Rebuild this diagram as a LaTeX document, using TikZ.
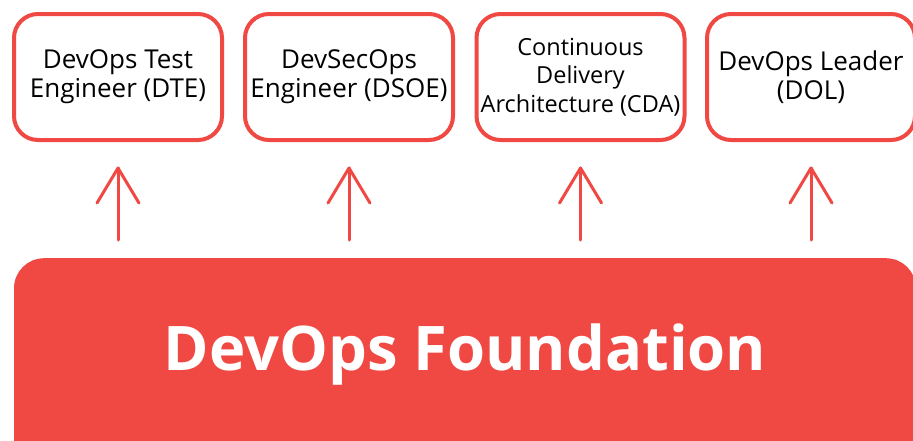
\documentclass[tikz,border=0pt]{standalone}
\usepackage{fontspec}
\setmainfont{Open Sans}
\definecolor{redA}{RGB}{240,72,66}
\begin{document}
\begin{tikzpicture}[x=1pt,y=-1pt,
  role/.style={draw=redA, line width=4pt, rounded corners=24pt, minimum width=208pt, minimum height=126pt, align=center, font=\fontsize{26}{29}\selectfont, inner sep=0pt, text=black},
  upline/.style={draw=redA, line width=3pt, line cap=round, line join=round}]
\useasboundingbox (0,0) rectangle (913,440);
\clip (0,0) rectangle (913,440);
\node[role] (b1) at (118,77) {DevOps Test\\Engineer (DTE)};
\node[role] (b2) at (349,77) {DevSecOps\\Engineer (DSOE)};
\node[role, font=\fontsize{23.5}{28.5}\selectfont] (b3) at (580.5,77) {Continuous\\Delivery\\Architecture (CDA)};
\node[role] (b4) at (811,77) {DevOps Leader\\(DOL)};
\node[fill=redA, rounded corners=30pt, minimum width=902pt, minimum height=230pt, inner sep=0pt, anchor=north] (found) at (465,258) {};
\node[anchor=base, text=white, font=\fontsize{61.5}{70}\selectfont\bfseries] (ftext) at (465,370) {DevOps Foundation};
\foreach \b in {b1,b2,b3,b4}{
  \coordinate (tip\b) at ([yshift=-26pt]\b.south);
  \coordinate (tail\b) at ([yshift=18pt]found.north -| \b.south);
  \draw[upline] (tail\b) -- (tip\b);
  \draw[upline] ([xshift=-21pt,yshift=-35pt]tip\b) -- (tip\b) -- ([xshift=21pt,yshift=-35pt]tip\b);
}
\end{tikzpicture}
\end{document}
